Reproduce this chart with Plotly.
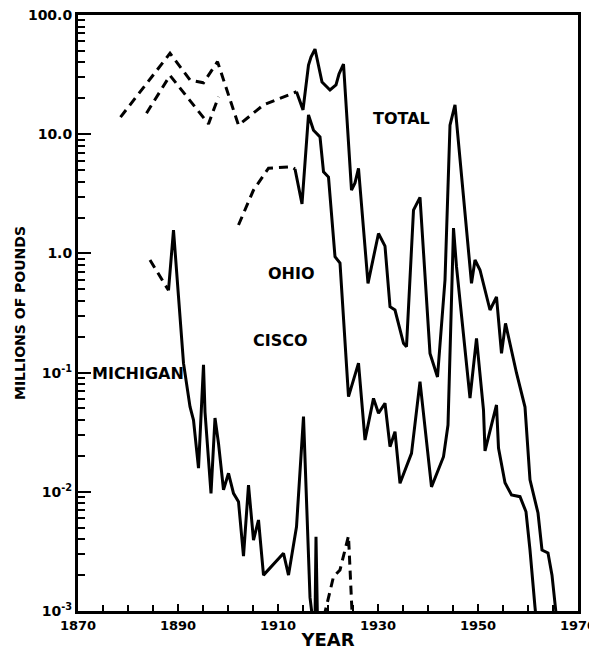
import plotly.graph_objects as go

# ---------------- data ----------------
total_dash_years = [1878.5, 1888.4, 1892.4, 1895.1, 1897.9, 1902.1, 1907.1, 1913.7]
total_dash_vals = [13.9, 47.7, 28.5, 27.0, 40.6, 11.9, 17.6, 22.7]

total_years = [1913.7, 1915.0, 1916.1, 1916.6, 1917.4, 1918.1, 1918.8, 1920.4, 1921.6, 1922.2,
               1923.1, 1924.7, 1925.4, 1926.1, 1928.0, 1930.1, 1931.4, 1932.4, 1933.4, 1935.1,
               1935.7, 1937.1, 1938.4, 1940.4, 1941.9, 1943.4, 1944.4, 1945.4, 1948.7, 1949.4,
               1950.4, 1952.4, 1953.7, 1954.7, 1955.5, 1957.7, 1959.4, 1960.4, 1962.0, 1962.8,
               1964.0, 1964.8, 1965.8]
total_vals = [22.7, 16.0, 38.1, 44.4, 51.8, 37.3, 27.4, 23.5, 25.9, 32.0,
              38.8, 3.40, 3.90, 5.18, 0.561, 1.47, 1.15, 0.357, 0.335, 0.176,
              0.165, 2.31, 2.95, 0.145, 0.092, 0.598, 11.9, 17.6, 0.561, 0.881,
              0.726, 0.335, 0.431, 0.145, 0.259, 0.0993, 0.0514, 0.0126, 0.00664, 0.00325,
              0.00307, 0.00200, 0.0008]

ohio_dash1_years = [1883.7, 1888.4, 1896.1, 1898.1]
ohio_dash1_vals = [15.0, 31.1, 12.2, 20.6]

ohio_dash2_years = [1902.1, 1905.1, 1908.1, 1912.7, 1913.4]
ohio_dash2_vals = [1.73, 3.40, 5.18, 5.34, 5.1]

ohio_years = [1913.4, 1914.8, 1916.1, 1917.1, 1918.4, 1919.1, 1920.1, 1921.4, 1922.4, 1924.1,
              1926.1, 1927.4, 1929.1, 1930.1, 1931.4, 1932.4, 1933.4, 1934.4, 1936.7, 1938.4,
              1940.7, 1943.1, 1944.0, 1945.1, 1945.7, 1948.4, 1949.7, 1951.1, 1951.4, 1953.7,
              1954.1, 1955.4, 1956.7, 1958.4, 1959.6, 1960.4, 1961.4, 1961.7]
ohio_vals = [5.1, 2.60, 14.5, 10.8, 9.48, 4.84, 4.37, 0.938, 0.830, 0.0628,
             0.120, 0.0272, 0.0608, 0.0456, 0.0553, 0.0239, 0.0319, 0.0118, 0.0210, 0.0839,
             0.0110, 0.0197, 0.0363, 1.63, 0.773, 0.0612, 0.194, 0.0485, 0.0220, 0.0535,
             0.0233, 0.0119, 0.0094, 0.0091, 0.0068, 0.00325, 0.00108, 0.0008]

mich_dash1_years = [1884.4, 1888.1]
mich_dash1_vals = [0.88, 0.49]

mich_years = [1888.1, 1889.1, 1890.1, 1891.1, 1892.4, 1893.1, 1894.1, 1895.1, 1895.4, 1896.6,
              1897.4, 1898.1, 1899.1, 1900.1, 1901.1, 1902.1, 1903.1, 1904.1, 1905.1, 1906.1,
              1907.1, 1911.1, 1912.1, 1913.7, 1915.1, 1915.4, 1916.4, 1917.0, 1917.4, 1917.6,
              1917.9]
mich_vals = [0.49, 1.57, 0.434, 0.120, 0.0518, 0.040, 0.0158, 0.116, 0.0467, 0.0097,
             0.0416, 0.0255, 0.0104, 0.0143, 0.0097, 0.00826, 0.00289, 0.0114, 0.00394, 0.0058,
             0.0020, 0.00305, 0.0020, 0.00509, 0.0427, 0.0185, 0.0013, 0.0008, 0.0008, 0.0042,
             0.0008]

mich_dash2_years = [1919.2, 1921.1, 1922.4, 1924.1, 1924.9]
mich_dash2_vals = [0.0009, 0.00194, 0.00221, 0.00426, 0.0008]

x_tick_vals = [1870, 1890, 1910, 1930, 1950, 1970]
x_tick_text = ["1870", "1890", "1910", "1930", "1950", "1970"]
y_tick_vals = [0.001, 0.01, 0.1, 1, 10, 100]
y_tick_text = ["10<sup>-3</sup>", "10<sup>-2</sup>", "10<sup>-1</sup>", "1.0", "10.0", "100.0"]

# ---------------- figure ----------------
FONT = "DejaVu Sans"
LW = 3
DASH = "9px,6px"

fig = go.Figure()

def add(xs, ys, dashed, name):
    fig.add_trace(go.Scatter(
        x=xs, y=ys, mode="lines", name=name, showlegend=False,
        line=dict(color="black", width=LW, dash=DASH if dashed else "solid"),
        hoverinfo="skip"))

add(total_dash_years, total_dash_vals, True, "Total")
add(total_years, total_vals, False, "Total")
add(ohio_dash1_years, ohio_dash1_vals, True, "Ohio")
add(ohio_dash2_years, ohio_dash2_vals, True, "Ohio")
add(ohio_years, ohio_vals, False, "Ohio")
add(mich_dash1_years, mich_dash1_vals, True, "Michigan")
add(mich_years, mich_vals, False, "Michigan")
add(mich_dash2_years, mich_dash2_vals, True, "Michigan")

minor_y = [k * 10 ** e for e in range(-3, 2) for k in range(2, 10)]

fig.update_xaxes(
    range=[1870, 1970], showgrid=False, zeroline=False, automargin=False,
    showline=True, linecolor="black", linewidth=3, mirror=True,
    tickmode="array", tickvals=x_tick_vals, ticktext=x_tick_text,
    ticks="inside", ticklen=7, tickwidth=2, tickcolor="black",
    ticklabeloverflow="allow",
    minor=dict(ticks="inside", dtick=5, ticklen=6, tickwidth=2, tickcolor="black", showgrid=False),
    tickfont=dict(family=FONT, size=13, color="black", weight="bold"),
    title=dict(text="YEAR", font=dict(family=FONT, size=18, color="black", weight="bold"),
               standoff=2),
)
fig.update_yaxes(
    type="log", range=[-3, 2], showgrid=False, zeroline=False, automargin=False,
    showline=True, linecolor="black", linewidth=3, mirror=True,
    tickmode="array", tickvals=y_tick_vals, ticktext=y_tick_text,
    ticks="inside", ticklen=13, tickwidth=2, tickcolor="black",
    ticklabeloverflow="allow",
    minor=dict(ticks="inside", tickvals=minor_y, ticklen=7, tickwidth=2, tickcolor="black", showgrid=False),
    tickfont=dict(family=FONT, size=14, color="black", weight="bold"),
    title=dict(text="MILLIONS OF POUNDS", font=dict(family=FONT, size=14, color="black", weight="bold"),
               standoff=0),
)

lab_font = dict(family=FONT, size=16, color="black", weight="bold")
for txt, xv, yv in [("TOTAL", 1934.6, 1.132), ("OHIO", 1912.7, -0.169),
                    ("CISCO", 1910.5, -0.727), ("MICHIGAN", 1882.0, -1.008)]:
    fig.add_annotation(x=xv, y=yv, xref="x", yref="y", text=txt, showarrow=False,
                       font=lab_font, xanchor="center", yanchor="middle")

# the page body adds an 8px offset; margins compensate so the plot box
# sits at x 78-578, y 15-611 in the 597x655 window
fig.update_layout(
    width=597, height=655,
    margin=dict(l=70, r=27, t=7, b=52),
    paper_bgcolor="white", plot_bgcolor="white",
    font=dict(family=FONT, color="black"),
)

fig.write_html("out.html")
